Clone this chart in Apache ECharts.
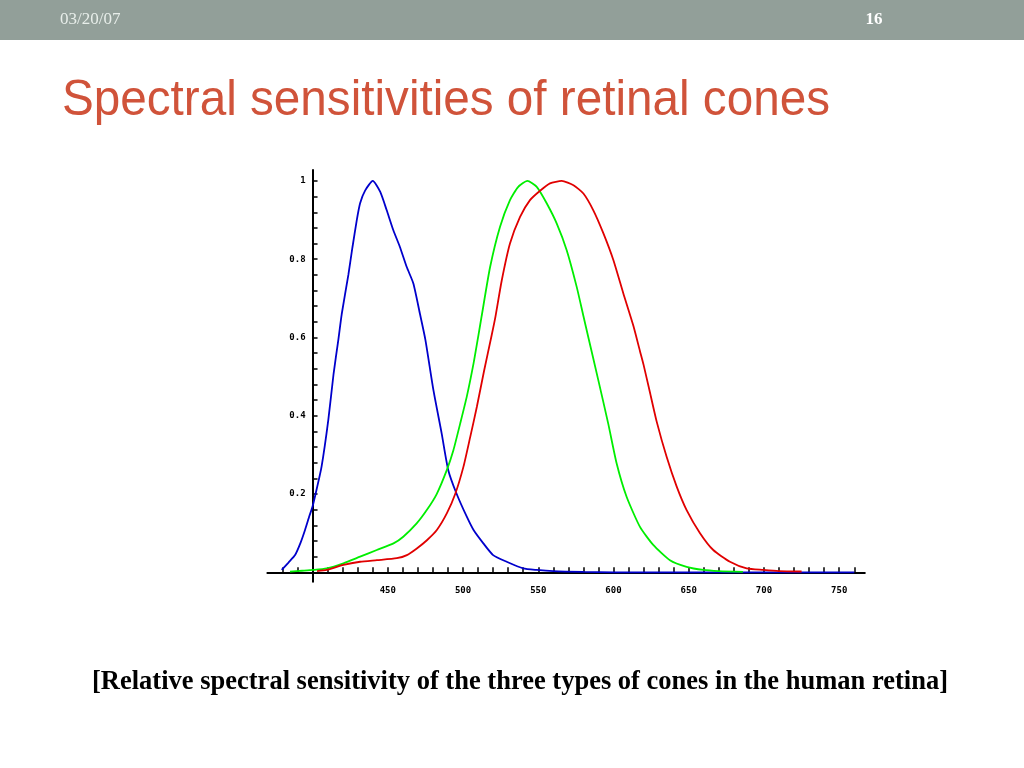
<!DOCTYPE html>
<html>
<head>
<meta charset="utf-8">
<script src="https://cdn.jsdelivr.net/npm/echarts@6/dist/echarts.min.js"></script>
<style>
html,body{margin:0;padding:0;background:#fff;}
#chart{width:1024px;height:768px;}
</style>
</head>
<body>
<div id="chart"></div>
<script>
// ---- data (wavelength nm, relative sensitivity) ----
var blueWl  = [379.5,384,388.4,392,395,398,400,402,406,410.5,414,417,419.4,423.8,426.5,429.4,431.6,435,440,445,449.3,453.7,458,462.6,467,471.4,475,480.3,485.8,490.2,495.8,502.5,507,513.5,520,529,540,549,560,580,600,760];
var blueVal = [0.006,0.025,0.044,0.075,0.108,0.145,0.168,0.2,0.27,0.39,0.508,0.59,0.66,0.76,0.83,0.9,0.943,0.976,1.0,0.972,0.925,0.874,0.832,0.78,0.738,0.66,0.594,0.466,0.355,0.261,0.2,0.142,0.108,0.074,0.044,0.027,0.01,0.006,0.003,0.001,0,0];

var greenWl  = [385,393,400.5,409.4,420.5,431.6,442.7,453.8,460.3,469.2,475.9,482.5,489.2,493.6,498.1,502.5,507,510.2,512.4,518,524.6,531.2,536.7,542.7,549,555.6,562.3,568.9,575.5,580,583.3,589.9,596.5,602.1,608.7,617.6,626.4,637.5,648.6,659.7,670,686];
var greenVal = [0.002,0.004,0.006,0.01,0.023,0.04,0.057,0.074,0.091,0.125,0.159,0.2,0.261,0.312,0.38,0.449,0.534,0.605,0.655,0.78,0.883,0.951,0.985,1.0,0.985,0.943,0.891,0.823,0.73,0.655,0.6,0.491,0.38,0.278,0.193,0.116,0.07,0.031,0.014,0.006,0.003,0.001];

var redWl  = [403,409.4,420.5,431.6,442.8,456,462.7,469.3,476,482.6,489.3,494.8,500.3,504.8,509.2,514,519,521.4,525.7,531.2,537.9,544.5,551.2,557.8,565.6,573.4,580,586.6,593.3,599.9,606.5,613.2,617.6,620,624.2,628.7,635.3,642,648.6,657.5,666.3,677.4,688.5,699.5,710,725];
var redVal = [0.003,0.006,0.019,0.027,0.031,0.036,0.044,0.061,0.082,0.108,0.151,0.2,0.27,0.346,0.423,0.515,0.605,0.65,0.745,0.84,0.908,0.951,0.975,0.994,1.0,0.989,0.968,0.925,0.866,0.798,0.713,0.63,0.565,0.53,0.46,0.385,0.295,0.219,0.159,0.1,0.057,0.027,0.01,0.006,0.003,0.002];

var xTickLabels = [450,500,550,600,650,700,750];
var yTickLabels = [0.2,0.4,0.6,0.8,1];

var slideDate = '03/20/07';
var slideNum = '16';
var slideTitle = 'Spectral sensitivities of retinal cones';
var caption = '[Relative spectral sensitivity of the three types of cones in the human retina]';

function pairs(xs, ys){ return xs.map(function(x,i){ return [x, ys[i]]; }); }

// measure text to fit target widths
var mctx = document.createElement('canvas').getContext('2d');
function fitScale(text, font, target){ mctx.font = font; return target / mctx.measureText(text).width; }

var titleFont = '50px "Liberation Sans", Arial, sans-serif';
var capFont = 'bold 28px "Liberation Serif", "Times New Roman", serif';

var chart = echarts.init(document.getElementById('chart'), null, {renderer:'canvas'});

var xMin = 370, xMax = 767, yMin = -0.024, yMax = 1.028;
var gridLeft = 267.4, gridRight = 159.2, gridTop = 170, gridBottom = 186.3;
var pxPerNm = (1024 - gridLeft - gridRight) / (xMax - xMin);
var yAxisOffset = -((400 - xMin) * pxPerNm);

var xTicks = []; for (var t = 380; t <= 760; t += 10) xTicks.push(t);
var yTicks = []; for (var k = 1; k <= 25; k++) yTicks.push(+(k*0.04).toFixed(2));

function lineSeries(name, data, color){
  return { name:name, type:'line', data:data, showSymbol:false, smooth:0.2,
    lineStyle:{color:color, width:1.8}, itemStyle:{color:color}, z:3, animation:false };
}

chart.setOption({
  animation:false,
  backgroundColor:'#ffffff',
  grid:{left:gridLeft, right:gridRight, top:gridTop, bottom:gridBottom, containLabel:false},
  xAxis:{
    type:'value', min:xMin, max:xMax,
    axisLine:{onZero:true, lineStyle:{color:'#000', width:2}},
    axisTick:{inside:true, length:5, lineStyle:{color:'#000', width:1.5}, customValues:xTicks},
    axisLabel:{customValues:xTickLabels, color:'#000', fontSize:9, fontWeight:'bold', fontFamily:'"DejaVu Sans Mono", monospace', margin:4},
    splitLine:{show:false}
  },
  yAxis:{
    type:'value', min:yMin, max:yMax, offset:yAxisOffset,
    axisLine:{onZero:false, lineStyle:{color:'#000', width:2}},
    axisTick:{inside:true, length:5, lineStyle:{color:'#000', width:1.5}, customValues:yTicks},
    axisLabel:{customValues:yTickLabels, color:'#000', fontSize:9, fontWeight:'bold', fontFamily:'"DejaVu Sans Mono", monospace', margin:7,
      formatter:function(v){ return v === 1 ? '1' : v.toFixed(1); }},
    splitLine:{show:false}
  },
  series:[
    lineSeries('S', pairs(blueWl, blueVal), '#0000CC'),
    lineSeries('M', pairs(greenWl, greenVal), '#00EE00'),
    lineSeries('L', pairs(redWl, redVal), '#E00000')
  ],
  graphic:[
    {type:'rect', shape:{x:0, y:0, width:1024, height:40}, style:{fill:'#929F99'}, z:0},
    {type:'text', x:60, y:20, style:{text:slideDate, font:'17px "Liberation Serif", serif', fill:'#E8EEEA', verticalAlign:'middle', align:'left'}},
    {type:'text', x:874, y:20, style:{text:slideNum, font:'bold 17px "Liberation Serif", serif', fill:'#FFFFFF', verticalAlign:'middle', align:'center'}},
    {type:'text', x:62, y:101, scaleX:fitScale(slideTitle, titleFont, 768), style:{text:slideTitle, font:titleFont, fill:'#D0533A', verticalAlign:'middle', align:'left'}},
    {type:'text', x:92, y:682, scaleX:fitScale(caption, capFont, 856), style:{text:caption, font:capFont, fill:'#000', verticalAlign:'middle', align:'left'}}
  ]
});
</script>
</body>
</html>
